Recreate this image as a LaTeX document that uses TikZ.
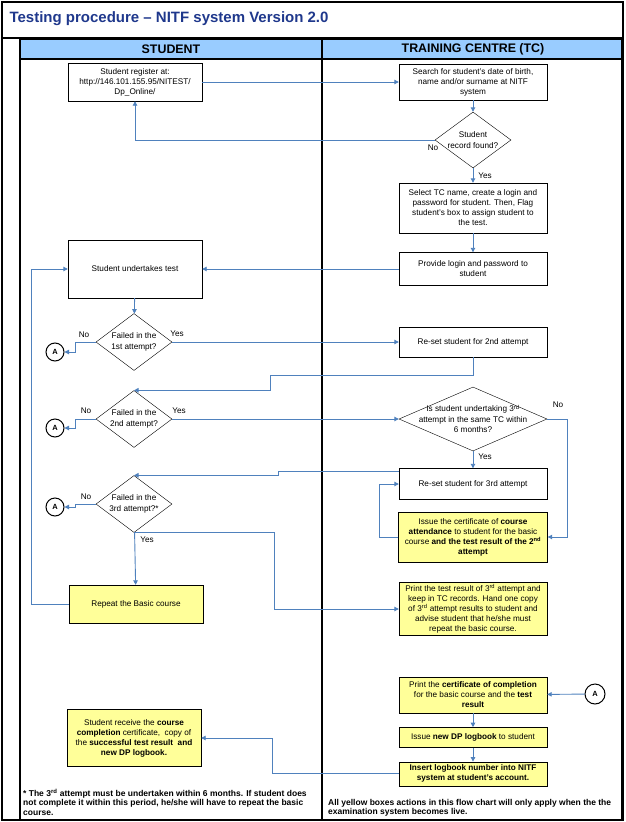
\documentclass[tikz,border=0pt]{standalone}
\usepackage{fontspec}
\setmainfont{Liberation Sans}
\usetikzlibrary{positioning}
\usetikzlibrary{shapes.geometric}
\usetikzlibrary{arrows.meta}
\definecolor{flow}{RGB}{79,129,189}
\definecolor{lane}{RGB}{153,204,255}
\definecolor{note}{RGB}{255,255,153}
\definecolor{heading}{RGB}{31,56,140}
\newcommand{\ord}[1]{\textsuperscript{#1}}
\tikzset{
    process/.style = {rectangle,draw,fill=white,align=center,inner sep=1pt,font=\fontsize{8.2}{10}\selectfont},
    action/.style = {process,fill=note},
    decision/.style = {diamond,draw,fill=white,inner sep=0pt},
    connector/.style = {circle,draw,line width=1pt,fill=white,inner sep=0pt,minimum size=18pt,font=\bfseries\fontsize{7.5}{9}\selectfont},
    flowline/.style = {draw=flow,line width=0.9pt,-{Triangle[length=4.5pt,width=4.5pt]}},
    tag/.style = {font=\fontsize{8.2}{10.5}\selectfont,inner sep=1pt},
    remark/.style = {align=left,inner sep=0pt,font=\bfseries\fontsize{8.5}{9.6}\selectfont}}

\begin{document}
\begin{tikzpicture}[x=1pt,y=-1pt]
        \useasboundingbox (0,0) rectangle (625,822);
        \draw[line width=1.2pt] (2,2) rectangle (623,820);
        \draw[line width=1.5pt] (2,38) -- (623,38);
        \fill[lane] (20,39) rectangle (621,59);
        \draw[line width=1.2pt] (20,39) -- (621,39) (20,59) -- (621,59);
        \draw[line width=1.6pt] (20,39) rectangle (322,820);
        \draw[line width=0.6pt] (322,39) rectangle (621,820);
        \path (6,19) node[anchor=west,font=\bfseries\fontsize{15}{17}\selectfont,text=heading] (title) {Testing procedure -- NITF system Version 2.0}
        (171,49) node[font=\bfseries\fontsize{12.4}{14}\selectfont] (student) {STUDENT}
        (473,49) node[font=\bfseries\fontsize{12.4}{14}\selectfont] (tc) {TRAINING CENTRE (TC)};

        \path (135,82) node[process,minimum width=134pt,minimum height=38pt] (reg) {Student register at:\\http://146.101.155.95/NITEST/\\Dp\_Online/}
        (473,82) node[process,minimum width=148pt,minimum height=36pt] (search) {Search for student's date of birth,\\name and/or surname at NITF\\system}
        (473,140) node[decision,minimum width=76pt,minimum height=56pt,label={[tag,align=center]center:Student\\record found?}] (found) {}
        (473,208) node[process,minimum width=148pt,minimum height=50pt] (select) {Select TC name, create a login and\\password for student. Then, Flag\\student's box to assign student to\\the test.}
        (473,269) node[process,minimum width=148pt,minimum height=33pt] (provide) {Provide login and password to\\student}
        (135,269) node[process,minimum width=134pt,minimum height=58pt] (undertake) {Student undertakes test}
        (134,342) node[decision,minimum width=76pt,minimum height=57pt,label={[tag,align=center]center:Failed in the\\1st attempt?}] (fail1) {}
        (473,342) node[process,minimum width=148pt,minimum height=30pt] (reset2) {Re-set student for 2nd attempt}
        (134,419) node[decision,minimum width=76pt,minimum height=57pt,label={[tag,align=center]center:Failed in the\\2nd attempt?}] (fail2) {}
        (473,419) node[decision,minimum width=148pt,minimum height=64pt,label={[tag,align=center]center:Is student undertaking 3\ord{rd}\\attempt in the same TC within\\6 months?}] (months) {}
        (473,484) node[process,minimum width=148pt,minimum height=31pt] (reset3) {Re-set student for 3rd attempt}
        (473,537) node[action,minimum width=149pt,minimum height=50pt] (issue) {Issue the certificate of \textbf{course}\\\textbf{attendance} to student for the basic\\course \textbf{and the test result of the 2\ord{nd}}\\\textbf{attempt}}
        (134,504) node[decision,minimum width=76pt,minimum height=57pt,label={[tag,align=center]center:Failed in the\\3rd attempt?*}] (fail3) {}
        (136,604) node[action,minimum width=134pt,minimum height=38pt] (repeat) {Repeat the Basic course}
        (473,609) node[action,minimum width=148pt,minimum height=53pt] (print3) {Print the test result of 3\ord{rd} attempt and\\keep in TC records. Hand one copy\\of 3\ord{rd} attempt results to student and\\advise student that he/she must\\repeat the basic course.}
        (473,695) node[action,minimum width=148pt,minimum height=36pt] (cert) {Print the \textbf{certificate of completion}\\for the basic course and the \textbf{test}\\\textbf{result}}
        (134,738) node[action,minimum width=134pt,minimum height=57pt] (receive) {Student receive the \textbf{course}\\\textbf{completion} certificate,\ \ copy of\\the \textbf{successful test result\ \ and}\\\textbf{new DP logbook.}};
        \node[action,minimum width=148pt,minimum height=20pt,below=14pt of cert] (logbook) {Issue \textbf{new DP logbook} to student};
        \node[action,minimum width=148pt,minimum height=24pt,below=14pt of logbook] (insert) {\textbf{Insert logbook number into NITF}\\\textbf{system at student's account.}};

        \path (55,352) node[connector] (a1) {A}
        (55,428) node[connector] (a2) {A}
        (55,507) node[connector] (a3) {A}
        (595,694) node[connector,minimum size=20pt] (a4) {A};

        \path (433,148) node[tag] (no0) {No}
        (485,176) node[tag] (yes0) {Yes}
        (84,335) node[tag] (no1) {No}
        (177,334) node[tag] (yes1) {Yes}
        (86,411) node[tag] (no2) {No}
        (179,411) node[tag] (yes2) {Yes}
        (558,405) node[tag] (no3) {No}
        (485,457) node[tag] (yes3) {Yes}
        (86,497) node[tag] (no4) {No}
        (147,540) node[tag] (yes4) {Yes};

        \path (23,789) node[anchor=north west,remark] (star) {* The 3\ord{rd} attempt must be undertaken within 6 months. If student does\\not complete it within this period, he/she will have to repeat the basic\\course.}
        (328,799) node[anchor=north west,remark] (live) {All yellow boxes actions in this flow chart will only apply when the the\\examination system becomes live.};

        \draw[flowline] (reg) -- (search);
        \draw[flowline] (search) -- (found);
        \draw[flowline] (found.west) -| (reg.south);
        \draw[flowline] (found) -- (select);
        \draw[flowline] (select) -- (provide);
        \draw[flowline] (provide) -- (undertake);
        \draw[flowline] (undertake) -- (fail1);
        \draw[flowline] (fail1.west) -- ++(-20,0) |- (a1);
        \draw[flowline] (fail1.east) -- (reset2.west);
        \draw[flowline] (reset2.south) -- ++(0,18) -- ++(-203,0) |- (fail2.north);
        \draw[flowline] (fail2.west) -- ++(-20,0) |- (a2);
        \draw[flowline] (fail2.east) -- (months.west);
        \draw[flowline] (months.east) -- ++(20,0) |- (issue.east);
        \draw[flowline] (months) -- (reset3);
        \draw[flowline] (issue.west) -- ++(-19,0) |- (reset3.west);
        \draw[flowline] ([yshift=12.5pt]reset3.west) -- ++(-120,0) |- (fail3.north);
        \draw[flowline] (fail3.west) -- ++(-20,0) |- (a3);
        \draw[flowline] (fail3) -- (repeat);
        \draw[flowline] (fail3.south) -- ++(140,0) |- (print3.west);
        \draw[flowline] (repeat.west) -- ++(-37,0) |- (undertake.west);
        \draw[flowline] (a4) -- (cert);
        \draw[flowline] (cert) -- (logbook);
        \draw[flowline] (logbook) -- (insert);
        \draw[flowline] (insert.west) -- ++(-126,0) |- (receive.east);
\end{tikzpicture}
\end{document}
